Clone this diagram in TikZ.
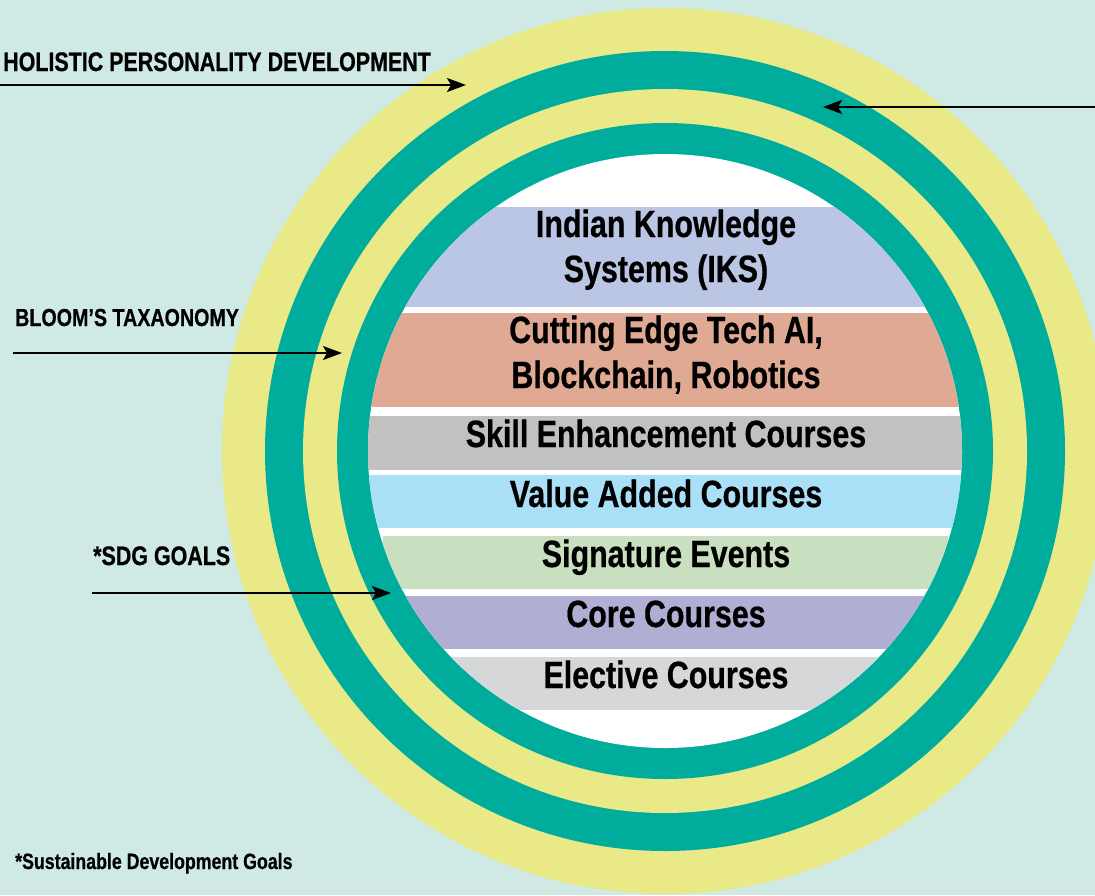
\documentclass[tikz,border=0pt]{standalone}
\usepackage{fontspec}
\usetikzlibrary{arrows.meta}
\newfontfamily\condfont{Liberation Sans}[FakeStretch=0.80, BoldFeatures={FakeBold=0.6}]
\definecolor{bgc}{HTML}{CFE9E5}
\definecolor{ylw}{HTML}{E9EA87}
\definecolor{tl}{HTML}{00AD9C}
\definecolor{ciks}{HTML}{BBC5E4}
\definecolor{ccut}{HTML}{DFA994}
\definecolor{cskill}{HTML}{C2C1BF}
\definecolor{cvalue}{HTML}{AADFF8}
\definecolor{csig}{HTML}{C8DFC0}
\definecolor{ccore}{HTML}{B0AFD3}
\definecolor{celect}{HTML}{D6D7D9}
\tikzset{
  bandtext/.style={inner sep=0pt, anchor=base, align=center,
    font=\condfont\bfseries\fontsize{38}{45}\selectfont},
  sidelabel/.style={inner sep=0pt, anchor=base west,
    font=\condfont\bfseries\fontsize{26.8}{30}\selectfont},
  arr/.style={line width=2.3pt, draw=black,
    -{Stealth[length=19pt,width=14pt,inset=4pt]}},
}
\begin{document}
\begin{tikzpicture}[x=1pt,y=1pt]
\useasboundingbox (0,0) rectangle (1095,-895);
\begin{scope}
\clip (0,0) rectangle (1095,-895);
\fill[bgc] (0,0) rectangle (1095,-895);
\coordinate (c) at (665,-451);
\fill[ylw] (c) circle[radius=443];
\fill[tl] (c) circle[radius=400];
\fill[ylw] (c) circle[radius=362];
\fill[tl] (c) circle[radius=328];
\fill[white] (c) circle[radius=297];
\begin{scope}
\clip (c) circle[radius=297];
\fill[ciks]   (300,-207) rectangle (1030,-307);
\fill[ccut]   (300,-313) rectangle (1030,-407);
\fill[cskill] (300,-416) rectangle (1030,-470);
\fill[cvalue] (300,-475) rectangle (1030,-528);
\fill[csig]   (383,-536) rectangle (948,-589);
\fill[ccore]  (300,-596) rectangle (1030,-649);
\fill[celect] (300,-657) rectangle (1030,-710);
\end{scope}
\end{scope}

\node[bandtext] (iks) at (666,-282) {Indian Knowledge\\Systems (IKS)};
\node[bandtext] (cut) at (666,-388) {Cutting Edge Tech AI,\\Blockchain, Robotics};
\node[bandtext] (skill) at (666,-447) {Skill Enhancement Courses};
\node[bandtext] (value) at (666,-507) {Value Added Courses};
\node[bandtext] (sig) at (666,-567) {Signature Events};
\node[bandtext] (core) at (666,-627) {Core Courses};
\node[bandtext] (elect) at (666,-688) {Elective Courses};

\node[sidelabel] (hol) at (3,-71) {HOLISTIC PERSONALITY DEVELOPMENT};
\node[sidelabel, font=\condfont\bfseries\fontsize{24.6}{28}\selectfont] (bloom) at (15,-326) {BLOOM’S TAXAONOMY};
\node[sidelabel] (sdg) at (93,-565) {*SDG GOALS};
\node[sidelabel, font=\condfont\bfseries\fontsize{22.2}{25}\selectfont] (note) at (15,-869) {*Sustainable Development Goals};

\coordinate (h1) at (0,-85);
\coordinate (h2) at (466,-85);
\coordinate (r1) at (1095,-107);
\coordinate (r2) at (823,-107);
\coordinate (b1) at (13,-353);
\coordinate (b2) at (342,-353);
\coordinate (s1) at (92,-593);
\coordinate (s2) at (391,-593);
\draw[arr] (h1) -- (h2);
\draw[arr] (r1) -- (r2);
\draw[arr] (b1) -- (b2);
\draw[arr] (s1) -- (s2);
\end{tikzpicture}
\end{document}
